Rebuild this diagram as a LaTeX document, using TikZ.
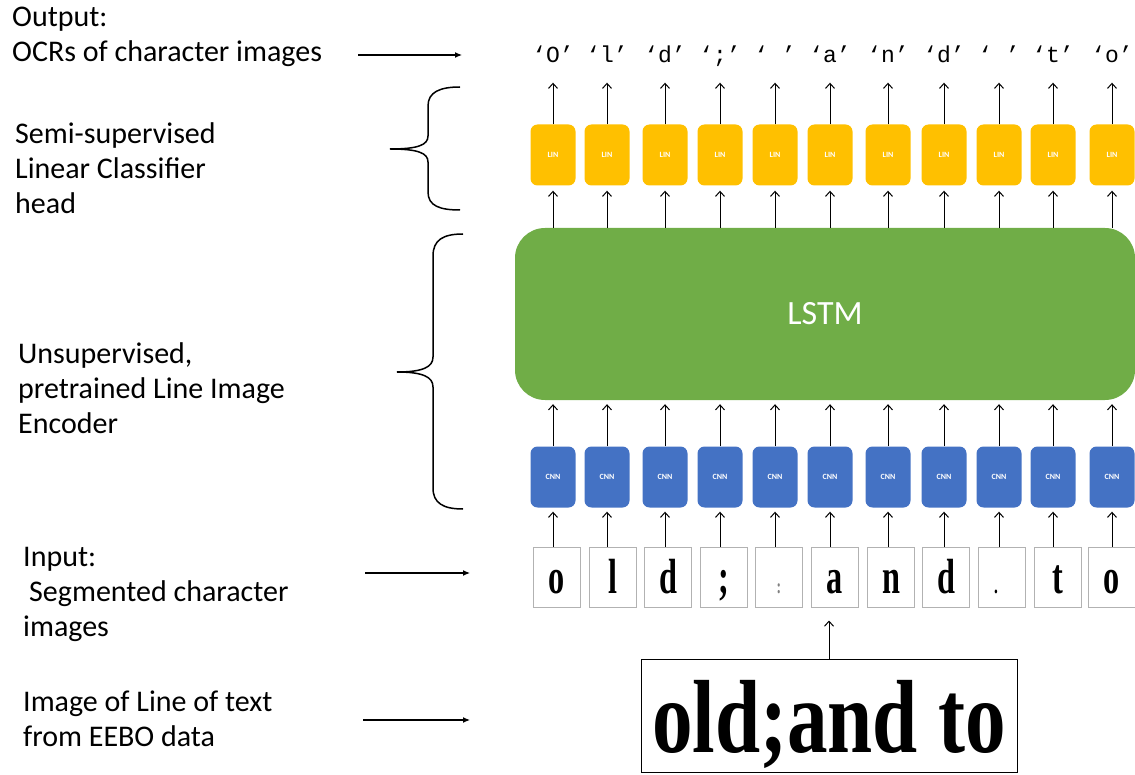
\documentclass[tikz,border=0pt]{standalone}
\usepackage{fontspec}
\setmainfont{Carlito}
\newfontfamily\monofont{Liberation Mono}
\newfontfamily\printfont{Liberation Serif}
\usetikzlibrary{arrows.meta,positioning,calc}

\definecolor{linyellow}{HTML}{FFC000}
\definecolor{lstmgreen}{HTML}{70AD47}
\definecolor{cnnblue}{HTML}{4472C4}

\newcommand{\glyph}[1]{\scalebox{0.85}[1.3]{#1}}
\newcommand{\faintcolon}{{\color{gray}\fontsize{16}{16}\selectfont :}}
\newcommand{\smalldot}{\hspace*{-14pt}{\fontsize{18}{18}\selectfont .}}
\newcommand{\gapchar}{\ }

\begin{document}
\begin{tikzpicture}[
  x=1pt, y=-1pt,
  feed/.style={-{Straight Barb[length=5pt,width=9pt]}, line width=1pt},
  pointer/.style={-{Latex[length=7pt,width=6pt]}, line width=1.2pt},
  bracket/.style={line width=1.5pt},
  sidetext/.style={anchor=west, align=left, inner sep=0pt, font=\fontsize{30}{35}\selectfont},
  linbox/.style={rectangle, rounded corners=7pt, fill=linyellow, minimum width=45pt, minimum height=61pt, text=white, font=\fontsize{8}{8}\selectfont\bfseries},
  cnnbox/.style={linbox, fill=cnnblue},
  charbox/.style={rectangle, draw=gray!60, line width=1pt, minimum width=47pt, minimum height=60pt, inner sep=0pt, text height=34pt, text depth=2pt, font=\fontsize{38}{38}\selectfont\printfont\bfseries},
  outchar/.style={inner sep=0pt, text height=15pt, text depth=0pt, font=\fontsize{23}{23}\selectfont\monofont},
  ]
  \useasboundingbox (0,0) rectangle (1135,775);

  % left hand descriptions
  \node[sidetext] (lbl_out) at (12,37) {Output:\\OCRs of character images};
  \node[sidetext] (lbl_head) at (15,168) {Semi-supervised\\Linear Classifier\\head};
  \node[sidetext] (lbl_enc) at (18,388) {Unsupervised,\\pretrained Line Image\\Encoder};
  \node[sidetext] (lbl_in) at (23,594) {Input:\\\hspace*{6pt}Segmented character\\images};
  \node[sidetext] (lbl_line) at (23,719) {Image of Line of text\\from EEBO data};

  \coordinate (out_tail) at (358,55);
  \coordinate (out_head) at (462,55);
  \coordinate (in_tail) at (365,573);
  \coordinate (in_head) at (470,573);
  \coordinate (line_tail) at (363,720);
  \coordinate (line_head) at (470,720);
  \draw[pointer] (out_tail) -- (out_head);
  \draw[pointer] (in_tail) -- (in_head);
  \draw[pointer] (line_tail) -- (line_head);

  % braces
  \draw[bracket] (460,87) .. controls (440,87) and (428,92) .. (428,106)
    -- (428,136) .. controls (428,145) and (418,149) .. (390,149)
    .. controls (418,149) and (428,153) .. (428,162)
    -- (428,192) .. controls (428,206) and (440,210) .. (460,210);
  \draw[bracket] (463,234) .. controls (443,234) and (433,240) .. (433,256)
    -- (433,357) .. controls (433,367) and (423,372) .. (397,372)
    .. controls (423,372) and (433,377) .. (433,387)
    -- (433,488) .. controls (433,503) and (443,509) .. (463,509);

  % encoder
  \node[rectangle, rounded corners=30pt, fill=lstmgreen, minimum width=620pt, minimum height=172pt,
        text=white, font=\fontsize{34}{34}\selectfont] (lstm) at (825,314) {LSTM};

  \foreach \i/\x/\cx/\g/\o in {
      1/553/557/o/O,
      2/607/613/l/l,
      3/665/668/d/d,
      4/720/724/;/;,
      5/775/779/\faintcolon/\gapchar,
      6/830/835/a/a,
      7/888/891/n/n,
      8/944/946/d/d,
      9/999/1002/\smalldot/\gapchar,
      10/1053/1058/t/t,
      11/1112/1112/o/o}
  {
    \node[outchar] (out_\i) at (\x,55) {‘\o’};
    \node[linbox] (lin_\i) at (\x,155) {LIN};
    \node[cnnbox] (cnn_\i) at (\x,477) {CNN};
    \node[charbox] (chr_\i) at (\cx,577) {\glyph{\g}};

    \draw[feed, shorten >=20pt] (lin_\i.north) -- (out_\i.south);
    \draw[feed, shorten >=5pt] (lstm.north -| lin_\i) -- (lin_\i.south);
    \draw[feed, shorten >=4pt] (cnn_\i.north) -- (lstm.south -| cnn_\i);
    \draw[feed, shorten >=4pt] (chr_\i.north -| cnn_\i) -- (cnn_\i.south);
  }

  % scanned line
  \node[draw, line width=1pt, minimum width=376pt, minimum height=113pt, inner sep=0pt,
        text height=76pt, text depth=4pt] (lineimg) at (829,716)
        {\scalebox{0.78}[1]{\fontsize{104}{104}\selectfont\printfont\bfseries old;and to}};
  \draw[feed, shorten >=13pt] (lineimg.north) -- (lineimg.north |- chr_6.south);

\end{tikzpicture}
\end{document}
